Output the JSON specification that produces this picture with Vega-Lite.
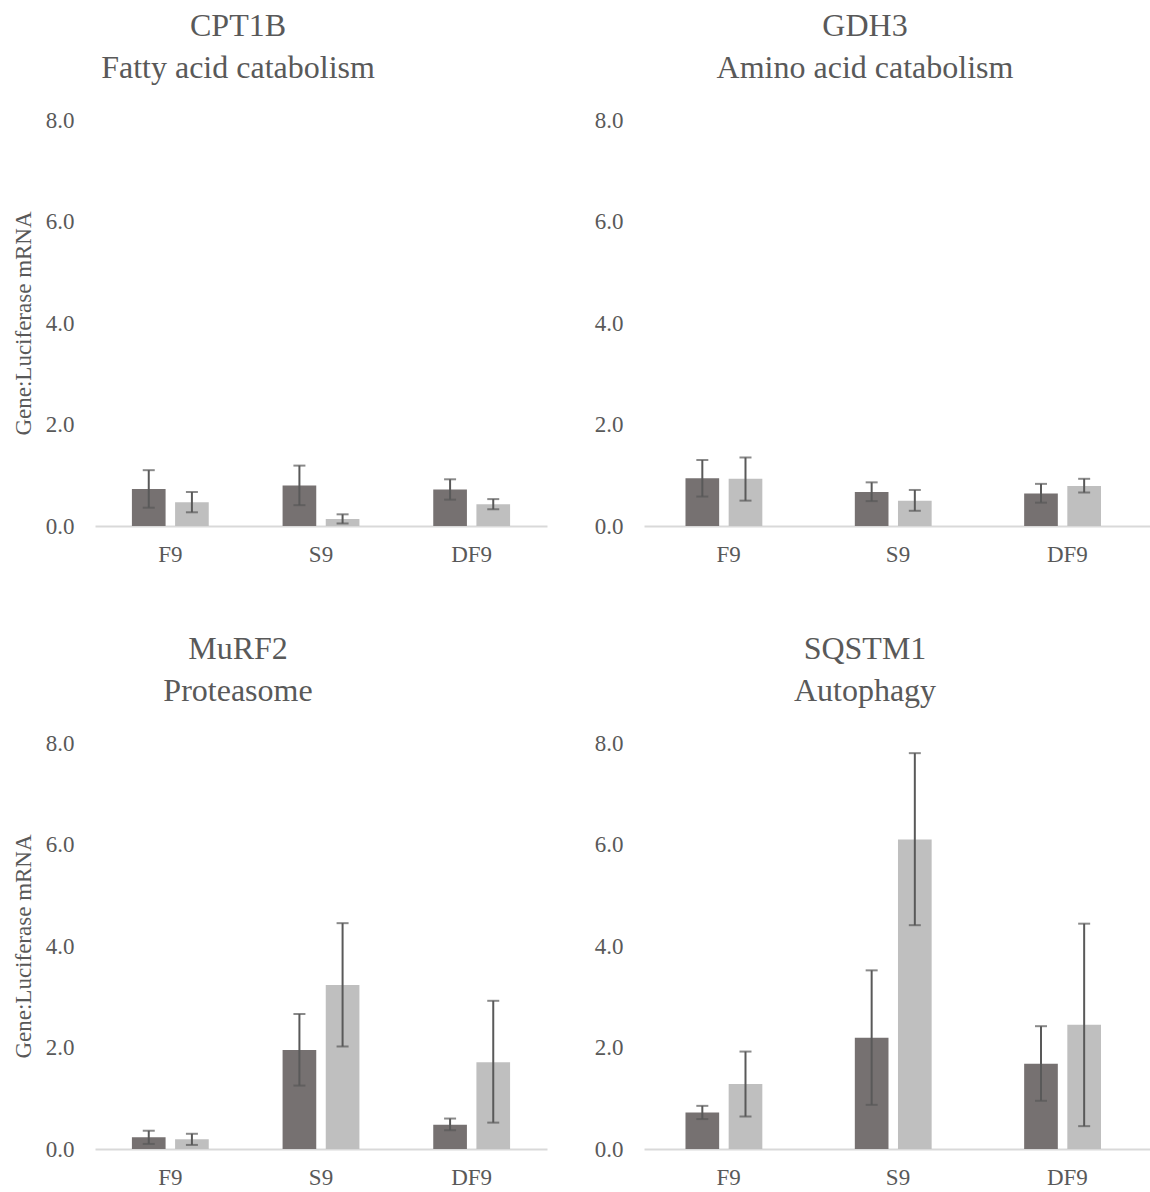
{
  "$schema": "https://vega.github.io/schema/vega-lite/v6.json",
  "background": "white",
  "padding": {"left": 12, "top": 10, "right": 0, "bottom": 0},
  "datasets": {
    "expr": [
      {"gene": "CPT1B", "cond": "F9", "series": "Group 1", "mean": 0.73, "lo": 0.36, "hi": 1.10},
      {"gene": "CPT1B", "cond": "F9", "series": "Group 2", "mean": 0.47, "lo": 0.27, "hi": 0.67},
      {"gene": "CPT1B", "cond": "S9", "series": "Group 1", "mean": 0.80, "lo": 0.41, "hi": 1.19},
      {"gene": "CPT1B", "cond": "S9", "series": "Group 2", "mean": 0.14, "lo": 0.05, "hi": 0.23},
      {"gene": "CPT1B", "cond": "DF9", "series": "Group 1", "mean": 0.72, "lo": 0.52, "hi": 0.92},
      {"gene": "CPT1B", "cond": "DF9", "series": "Group 2", "mean": 0.43, "lo": 0.33, "hi": 0.53},
      {"gene": "GDH3", "cond": "F9", "series": "Group 1", "mean": 0.94, "lo": 0.58, "hi": 1.30},
      {"gene": "GDH3", "cond": "F9", "series": "Group 2", "mean": 0.93, "lo": 0.50, "hi": 1.35},
      {"gene": "GDH3", "cond": "S9", "series": "Group 1", "mean": 0.67, "lo": 0.49, "hi": 0.86},
      {"gene": "GDH3", "cond": "S9", "series": "Group 2", "mean": 0.50, "lo": 0.30, "hi": 0.71},
      {"gene": "GDH3", "cond": "DF9", "series": "Group 1", "mean": 0.64, "lo": 0.46, "hi": 0.83},
      {"gene": "GDH3", "cond": "DF9", "series": "Group 2", "mean": 0.79, "lo": 0.66, "hi": 0.93},
      {"gene": "MuRF2", "cond": "F9", "series": "Group 1", "mean": 0.23, "lo": 0.10, "hi": 0.36},
      {"gene": "MuRF2", "cond": "F9", "series": "Group 2", "mean": 0.19, "lo": 0.08, "hi": 0.30},
      {"gene": "MuRF2", "cond": "S9", "series": "Group 1", "mean": 1.95, "lo": 1.25, "hi": 2.66},
      {"gene": "MuRF2", "cond": "S9", "series": "Group 2", "mean": 3.23, "lo": 2.02, "hi": 4.45},
      {"gene": "MuRF2", "cond": "DF9", "series": "Group 1", "mean": 0.48, "lo": 0.37, "hi": 0.60},
      {"gene": "MuRF2", "cond": "DF9", "series": "Group 2", "mean": 1.71, "lo": 0.52, "hi": 2.92},
      {"gene": "SQSTM1", "cond": "F9", "series": "Group 1", "mean": 0.72, "lo": 0.59, "hi": 0.85},
      {"gene": "SQSTM1", "cond": "F9", "series": "Group 2", "mean": 1.28, "lo": 0.64, "hi": 1.92},
      {"gene": "SQSTM1", "cond": "S9", "series": "Group 1", "mean": 2.19, "lo": 0.87, "hi": 3.52},
      {"gene": "SQSTM1", "cond": "S9", "series": "Group 2", "mean": 6.10, "lo": 4.41, "hi": 7.80},
      {"gene": "SQSTM1", "cond": "DF9", "series": "Group 1", "mean": 1.68, "lo": 0.95, "hi": 2.42},
      {"gene": "SQSTM1", "cond": "DF9", "series": "Group 2", "mean": 2.45, "lo": 0.45, "hi": 4.44}
    ]
  },
  "data": {"name": "expr"},
  "spacing": 67,
  "vconcat": [
    {
      "spacing": 47,
      "hconcat": [
        {
          "width": 452, "height": 406,
          "title": {"text": ["CPT1B", "Fatty acid catabolism"], "dx": -83},
          "transform": [{"filter": "datum.gene === 'CPT1B'"}],
          "encoding": {
            "x": {"field": "cond", "type": "nominal", "sort": ["F9", "S9", "DF9"], "scale": {"paddingInner": 0.49, "paddingOuter": 0.245}, "axis": {"title": null, "labelAngle": 0}},
            "xOffset": {"field": "series", "type": "nominal", "scale": {"paddingInner": 0.22, "paddingOuter": 0}}
          },
          "layer": [
            {"mark": {"type": "bar"}, "encoding": {"y": {"field": "mean", "type": "quantitative", "scale": {"domain": [0, 8]}, "axis": {"title": "Gene:Luciferase mRNA", "values": [0, 2, 4, 6, 8], "format": ".1f"}}, "color": {"field": "series", "type": "nominal", "scale": {"range": ["#767171", "#bfbfbf"]}, "legend": null}}},
            {"mark": {"type": "rule", "strokeWidth": 2, "color": "#595959"}, "encoding": {"y": {"field": "lo", "type": "quantitative"}, "y2": {"field": "hi"}}},
            {"mark": {"type": "tick", "size": 12, "thickness": 2, "color": "#595959"}, "encoding": {"y": {"field": "hi", "type": "quantitative"}}},
            {"mark": {"type": "tick", "size": 12, "thickness": 2, "color": "#595959"}, "encoding": {"y": {"field": "lo", "type": "quantitative"}}}
          ]
        },
        {
          "width": 508, "height": 406,
          "title": {"text": ["GDH3", "Amino acid catabolism"], "dx": -33},
          "transform": [{"filter": "datum.gene === 'GDH3'"}],
          "encoding": {
            "x": {"field": "cond", "type": "nominal", "sort": ["F9", "S9", "DF9"], "scale": {"paddingInner": 0.49, "paddingOuter": 0.245}, "axis": {"title": null, "labelAngle": 0}},
            "xOffset": {"field": "series", "type": "nominal", "scale": {"paddingInner": 0.22, "paddingOuter": 0}}
          },
          "layer": [
            {"mark": {"type": "bar"}, "encoding": {"y": {"field": "mean", "type": "quantitative", "scale": {"domain": [0, 8]}, "axis": {"title": null, "values": [0, 2, 4, 6, 8], "format": ".1f"}}, "color": {"field": "series", "type": "nominal", "scale": {"range": ["#767171", "#bfbfbf"]}, "legend": null}}},
            {"mark": {"type": "rule", "strokeWidth": 2, "color": "#595959"}, "encoding": {"y": {"field": "lo", "type": "quantitative"}, "y2": {"field": "hi"}}},
            {"mark": {"type": "tick", "size": 12, "thickness": 2, "color": "#595959"}, "encoding": {"y": {"field": "hi", "type": "quantitative"}}},
            {"mark": {"type": "tick", "size": 12, "thickness": 2, "color": "#595959"}, "encoding": {"y": {"field": "lo", "type": "quantitative"}}}
          ]
        }
      ]
    },
    {
      "spacing": 47,
      "hconcat": [
        {
          "width": 452, "height": 406,
          "title": {"text": ["MuRF2", "Proteasome"], "dx": -83},
          "transform": [{"filter": "datum.gene === 'MuRF2'"}],
          "encoding": {
            "x": {"field": "cond", "type": "nominal", "sort": ["F9", "S9", "DF9"], "scale": {"paddingInner": 0.49, "paddingOuter": 0.245}, "axis": {"title": null, "labelAngle": 0}},
            "xOffset": {"field": "series", "type": "nominal", "scale": {"paddingInner": 0.22, "paddingOuter": 0}}
          },
          "layer": [
            {"mark": {"type": "bar"}, "encoding": {"y": {"field": "mean", "type": "quantitative", "scale": {"domain": [0, 8]}, "axis": {"title": "Gene:Luciferase mRNA", "values": [0, 2, 4, 6, 8], "format": ".1f"}}, "color": {"field": "series", "type": "nominal", "scale": {"range": ["#767171", "#bfbfbf"]}, "legend": null}}},
            {"mark": {"type": "rule", "strokeWidth": 2, "color": "#595959"}, "encoding": {"y": {"field": "lo", "type": "quantitative"}, "y2": {"field": "hi"}}},
            {"mark": {"type": "tick", "size": 12, "thickness": 2, "color": "#595959"}, "encoding": {"y": {"field": "hi", "type": "quantitative"}}},
            {"mark": {"type": "tick", "size": 12, "thickness": 2, "color": "#595959"}, "encoding": {"y": {"field": "lo", "type": "quantitative"}}}
          ]
        },
        {
          "width": 508, "height": 406,
          "title": {"text": ["SQSTM1", "Autophagy"], "dx": -33},
          "transform": [{"filter": "datum.gene === 'SQSTM1'"}],
          "encoding": {
            "x": {"field": "cond", "type": "nominal", "sort": ["F9", "S9", "DF9"], "scale": {"paddingInner": 0.49, "paddingOuter": 0.245}, "axis": {"title": null, "labelAngle": 0}},
            "xOffset": {"field": "series", "type": "nominal", "scale": {"paddingInner": 0.22, "paddingOuter": 0}}
          },
          "layer": [
            {"mark": {"type": "bar"}, "encoding": {"y": {"field": "mean", "type": "quantitative", "scale": {"domain": [0, 8]}, "axis": {"title": null, "values": [0, 2, 4, 6, 8], "format": ".1f"}}, "color": {"field": "series", "type": "nominal", "scale": {"range": ["#767171", "#bfbfbf"]}, "legend": null}}},
            {"mark": {"type": "rule", "strokeWidth": 2, "color": "#595959"}, "encoding": {"y": {"field": "lo", "type": "quantitative"}, "y2": {"field": "hi"}}},
            {"mark": {"type": "tick", "size": 12, "thickness": 2, "color": "#595959"}, "encoding": {"y": {"field": "hi", "type": "quantitative"}}},
            {"mark": {"type": "tick", "size": 12, "thickness": 2, "color": "#595959"}, "encoding": {"y": {"field": "lo", "type": "quantitative"}}}
          ]
        }
      ]
    }
  ],
  "config": {
    "view": {"stroke": null},
    "font": "Times New Roman, Liberation Serif, serif",
    "title": {"font": "Times New Roman, Liberation Serif, serif", "fontSize": 32, "fontWeight": "normal", "color": "#595959", "lineHeight": 42, "offset": 24, "anchor": "middle"},
    "axis": {"labelFont": "Times New Roman, Liberation Serif, serif", "labelFontSize": 23, "labelColor": "#595959", "titleFont": "Times New Roman, Liberation Serif, serif", "titleFontSize": 23, "titleFontWeight": "normal", "titleColor": "#595959", "grid": false, "ticks": false},
    "axisX": {"domainColor": "#d9d9d9", "domainWidth": 2, "labelPadding": 17},
    "axisY": {"domain": false, "labelPadding": 21, "titlePadding": 10}
  }
}
